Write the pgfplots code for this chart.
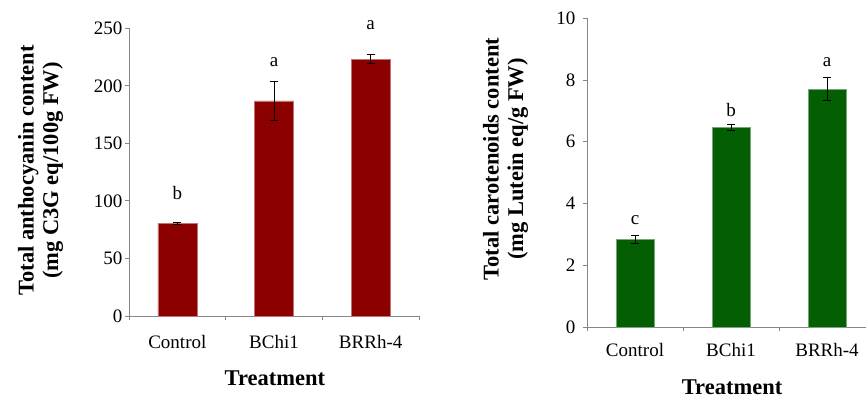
\documentclass[border=0pt]{standalone}
\usepackage{pgfplots}
\pgfplotsset{compat=1.18}
\usepackage{fontspec}
\setmainfont{Liberation Serif}
\definecolor{barred}{RGB}{140,0,0}
\definecolor{bargreen}{RGB}{4,94,4}
\definecolor{axgray}{RGB}{134,134,134}
\begin{document}
\begin{tikzpicture}
\pgfplotsset{
  mybar/.style={
    scale only axis,
    axis x line*=bottom, axis y line*=left,
    axis line style={axgray, line width=0.9pt},
    xmin=-0.5, ymin=0,
    xtick={-0.5,0.5,1.5,2.5},
    xticklabels={},
    extra x ticks={0,1,2},
    extra x tick labels={Control,BChi1,BRRh-4},
    tick align=outside, major tick length=4pt,
    tick style={axgray, line width=0.9pt},
    ticklabel style={font=\fontsize{19}{22}\selectfont, text=black},
    /pgf/number format/assume math mode=true,
    label style={font=\bfseries\fontsize{22.5}{24.5}\selectfont, align=center},
    ylabel style={anchor=center},
    xlabel style={anchor=center},
    clip=false,
  }
}
% Left chart
\begin{axis}[mybar, at={(129pt,83pt)}, anchor=south west,
  width=290pt, height=287.7pt, xmax=2.5, ymax=250,
  ytick={0,50,...,250},
  extra x tick style={major tick length=0pt, xticklabel style={yshift=-16pt}},
  yticklabel style={xshift=1pt},
  ylabel={Total anthocyanin content\\(mg C3G eq/100g FW)},
  ylabel style={at={(axis description cs:-0.305,0.506)}},
  xlabel={Treatment},
  xlabel style={at={(axis description cs:0.503,-0.2155)}},
]
\addplot[ybar, bar width=39pt, fill=barred, draw=barred!55!white, line width=0.5pt,
  error bars/.cd, y dir=both, y explicit,
  error bar style={black, line width=1pt},
  error mark options={black, rotate=90, mark size=4pt, line width=1pt}]
  table[x=x, y=y, y error=e]{
x y e
0 80.5 1
1 187 17
2 223 4
};
\node[font=\fontsize{19}{22}\selectfont] at (axis cs:0,107) {b};
\node[font=\fontsize{19}{22}\selectfont] at (axis cs:1,221) {a};
\node[font=\fontsize{19}{22}\selectfont] at (axis cs:2,253) {a};
\end{axis}
% Right chart
\begin{axis}[mybar, at={(587pt,72pt)}, anchor=south west,
  width=279pt, height=308.7pt, xmax=2.406, ymax=10,
  ytick={0,2,...,10},
  extra x tick style={major tick length=0pt, xticklabel style={yshift=-13pt}},
  yticklabel style={xshift=-4pt},
  ylabel={Total carotenoids content\\(mg Lutein eq/g FW)},
  ylabel style={at={(axis description cs:-0.292,0.544)}},
  xlabel={Treatment},
  xlabel style={at={(axis description cs:0.52,-0.194)}},
]
\addplot[ybar, bar width=38pt, fill=bargreen, draw=bargreen!55!white, line width=0.5pt,
  error bars/.cd, y dir=both, y explicit,
  error bar style={black, line width=1pt},
  error mark options={black, rotate=90, mark size=4pt, line width=1pt}]
  table[x=x, y=y, y error=e]{
x y e
0 2.83 0.14
1 6.47 0.10
2 7.70 0.37
};
\node[font=\fontsize{19}{22}\selectfont] at (axis cs:0,3.47) {c};
\node[font=\fontsize{19}{22}\selectfont] at (axis cs:1,7.03) {b};
\node[font=\fontsize{19}{22}\selectfont] at (axis cs:2,8.59) {a};
\end{axis}
\pgfresetboundingbox
\path[use as bounding box] (0pt,0pt) rectangle (866pt,399pt);
\end{tikzpicture}
\end{document}
